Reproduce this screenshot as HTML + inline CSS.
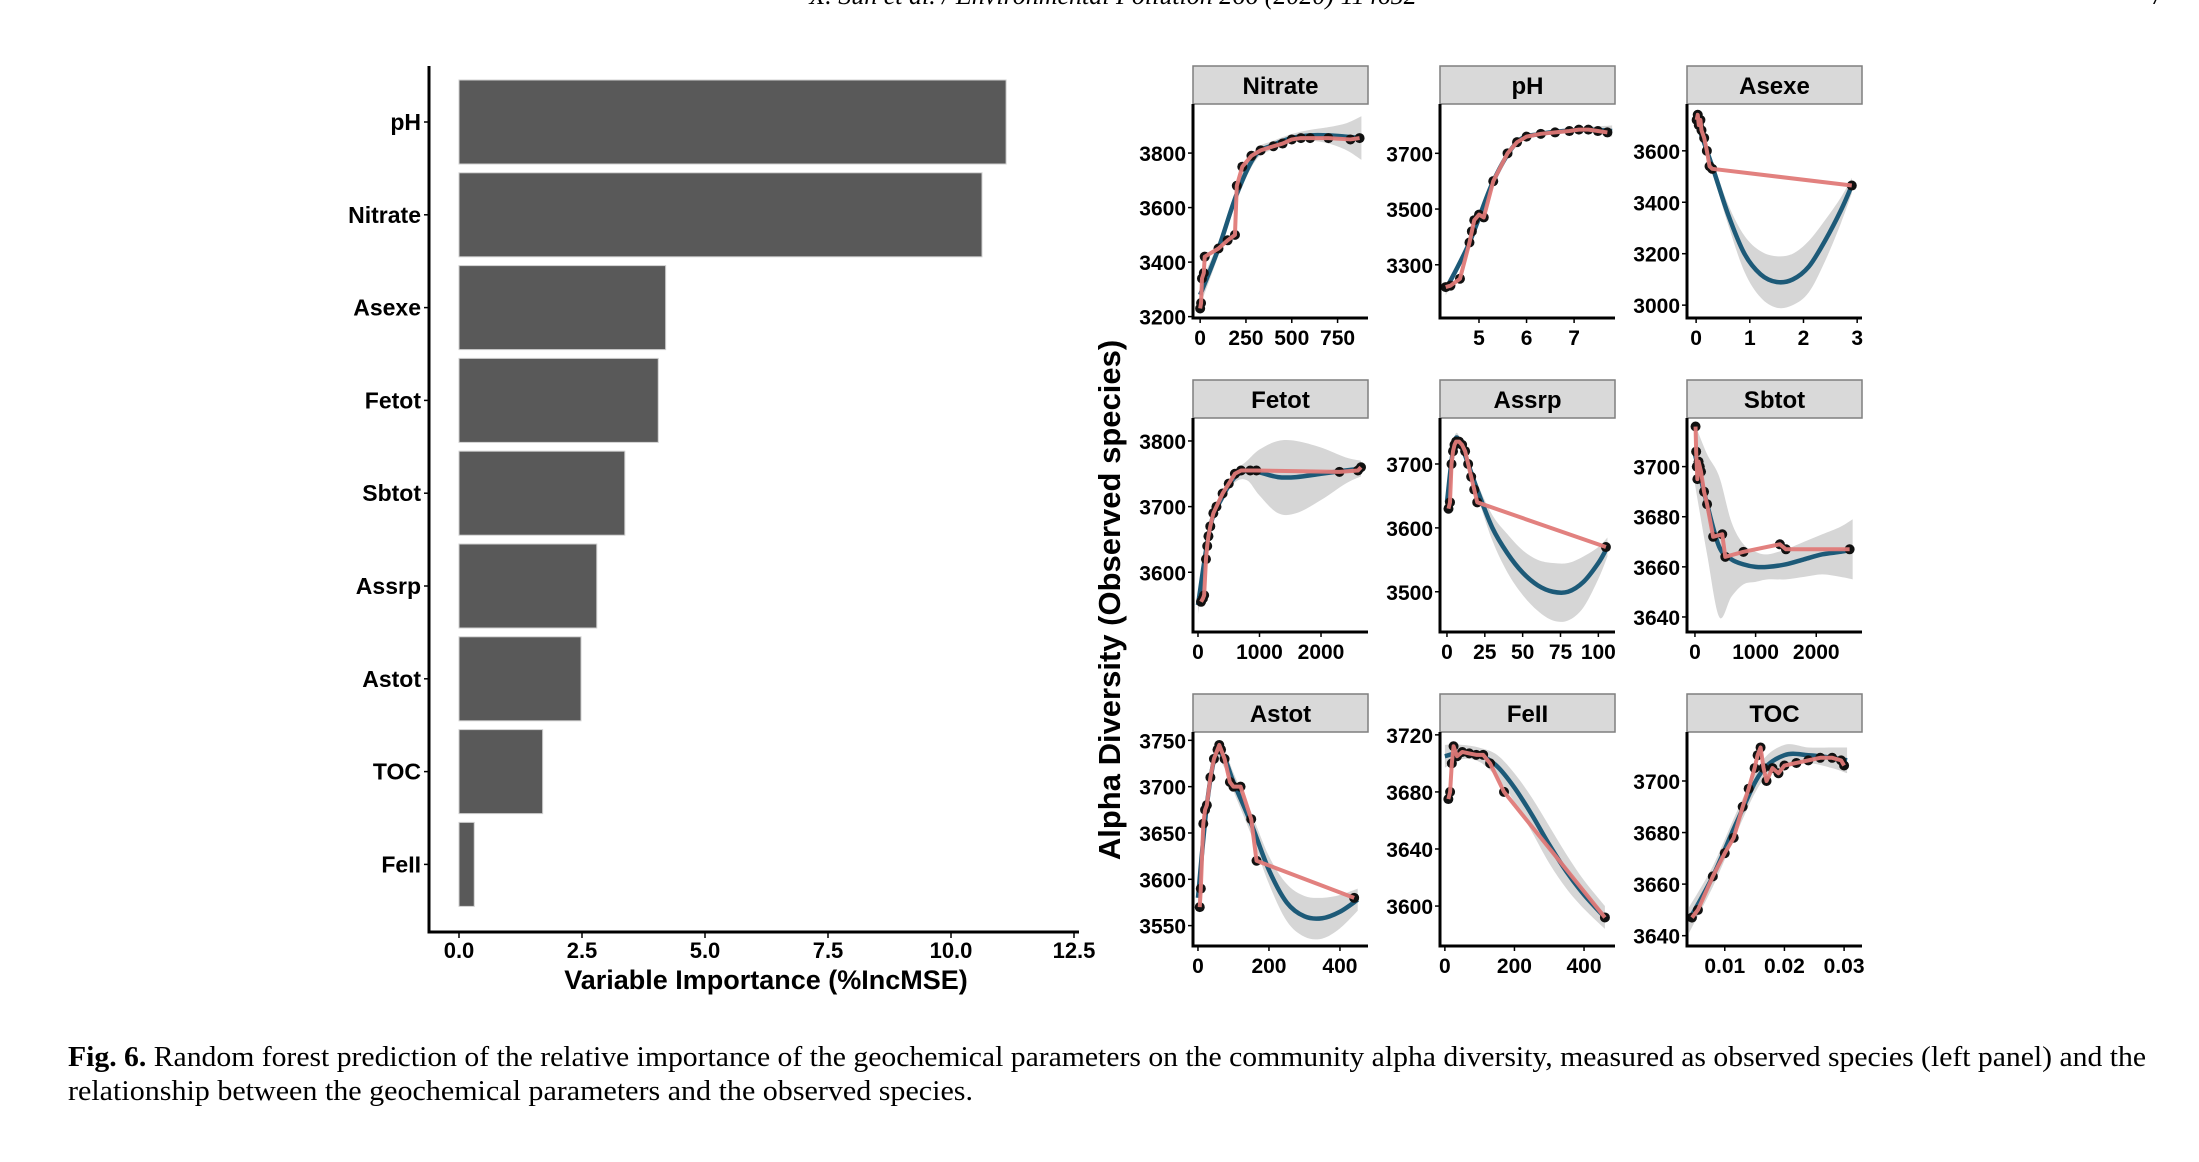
<!DOCTYPE html>
<html><head><meta charset="utf-8"><style>
html,body{margin:0;padding:0;background:#fff;}
svg{display:block;}
</style></head><body>
<svg id="fig" xmlns="http://www.w3.org/2000/svg" width="2199" height="1162" viewBox="0 0 2199 1162" font-family="Liberation Sans, Arial, sans-serif">
<text x="1113" y="4" font-family="Liberation Serif, serif" font-style="italic" font-size="26" text-anchor="middle">X. Sun et al. / Environmental Pollution 266 (2020) 114652</text>
<text x="2150" y="4" font-family="Liberation Serif, serif" font-size="26">7</text>
<g id="bars"></g>
<g id="panels"></g>
<text transform="translate(1120,600) rotate(-90)" font-size="31" font-weight="bold" text-anchor="middle">Alpha Diversity (Observed species)</text>
<text x="68" y="1066" font-family="Liberation Serif, serif" font-size="28" textLength="2078" lengthAdjust="spacingAndGlyphs"><tspan font-weight="bold">Fig. 6.</tspan> Random forest prediction of the relative importance of the geochemical parameters on the community alpha diversity, measured as observed species (left panel) and the</text>
<text x="68" y="1100" font-family="Liberation Serif, serif" font-size="28" textLength="905" lengthAdjust="spacingAndGlyphs">relationship between the geochemical parameters and the observed species.</text>
</svg>
<script>
const NS='http://www.w3.org/2000/svg';
// ---- importance bar chart data ----
const barCategories=['pH','Nitrate','Asexe','Fetot','Sbtot','Assrp','Astot','TOC','FeII'];
const barValues=[11.12,10.63,4.2,4.05,3.37,2.8,2.48,1.7,0.31];
const barTicks=[0,2.5,5,7.5,10,12.5];
const barTickLabels=['0.0','2.5','5.0','7.5','10.0','12.5'];

// ---- panel data ----
const panelNames=['Nitrate','pH','Asexe','Fetot','Assrp','Sbtot','Astot','FeII','TOC'];
const pointsX_Nitrate=[0,5,10,20,25,100,150,190,200,230,280,330,400,450,500,550,600,700,820,870];
const pointsY_Nitrate=[3230,3250,3340,3360,3420,3450,3480,3500,3680,3750,3790,3810,3825,3835,3850,3855,3855,3855,3850,3855];
const fitX_Nitrate=[0,100,200,300,400,500,600,700,800,880];
const fitY_Nitrate=[3280,3450,3650,3790,3830,3855,3865,3865,3860,3855];
const band_Nitrate=[40,25,25,20,15,15,20,30,50,80];
const pointsX_pH=[4.3,4.4,4.6,4.8,4.85,4.9,5.0,5.1,5.3,5.6,5.8,6.0,6.3,6.6,6.9,7.1,7.3,7.5,7.7];
const pointsY_pH=[3220,3225,3250,3380,3420,3460,3480,3470,3600,3700,3740,3760,3770,3775,3780,3785,3785,3780,3775];
const fitX_pH=[4.3,4.8,5.3,5.8,6.3,6.8,7.3,7.8];
const fitY_pH=[3210,3380,3600,3740,3770,3780,3785,3780];
const band_pH=[20,10,10,10,8,8,10,20];
const pointsX_Asexe=[0.01,0.03,0.05,0.08,0.1,0.15,0.2,0.25,0.3,2.9];
const pointsY_Asexe=[3720,3740,3700,3720,3680,3650,3600,3540,3530,3465];
const fitX_Asexe=[0,0.3,0.6,0.9,1.2,1.5,1.8,2.1,2.4,2.7,2.9];
const fitY_Asexe=[3720,3540,3350,3200,3120,3090,3100,3150,3250,3370,3465];
const band_Asexe=[30,25,40,70,90,100,100,100,80,50,30];
const pointsX_Fetot=[50,80,100,130,150,170,200,250,300,400,500,600,700,850,950,2300,2600,2650];
const pointsY_Fetot=[3555,3560,3565,3620,3640,3655,3670,3690,3700,3720,3735,3750,3755,3755,3755,3753,3755,3760];
const fitX_Fetot=[0,200,400,600,800,1000,1300,1600,2000,2400,2650];
const fitY_Fetot=[3550,3670,3715,3745,3755,3752,3745,3745,3750,3755,3758];
const band_Fetot=[15,10,8,8,15,35,55,55,40,20,12];
const pointsX_Assrp=[1,2,3,4,5,6,8,10,12,14,16,18,20,105];
const pointsY_Assrp=[3630,3640,3700,3720,3730,3735,3735,3730,3720,3700,3680,3660,3640,3570];
const fitX_Assrp=[0,5,10,20,30,40,50,60,70,80,90,100,106];
const fitY_Assrp=[3640,3735,3725,3660,3600,3560,3530,3510,3500,3500,3515,3545,3570];
const band_Assrp=[15,8,8,10,20,30,35,40,45,45,40,25,15];
const pointsX_Sbtot=[10,20,30,40,60,80,100,150,200,300,450,500,800,1400,1500,2550];
const pointsY_Sbtot=[3716,3706,3700,3695,3702,3700,3698,3690,3685,3672,3673,3664,3666,3669,3667,3667];
const fitX_Sbtot=[0,200,400,600,800,1000,1200,1500,1800,2100,2400,2600];
const fitY_Sbtot=[3705,3685,3668,3663,3661,3660,3660,3661,3663,3665,3666,3667];
const band_Sbtot=[12,20,28,15,8,6,5,6,7,8,10,12];
const pointsX_Astot=[5,8,15,20,25,35,45,55,60,65,75,90,100,120,150,165,440];
const pointsY_Astot=[3570,3590,3660,3675,3680,3710,3730,3740,3745,3740,3730,3705,3700,3700,3665,3620,3580];
const fitX_Astot=[0,25,50,75,100,150,200,250,300,350,400,450];
const fitY_Astot=[3580,3680,3735,3730,3705,3660,3610,3575,3560,3558,3565,3578];
const band_Astot=[15,10,8,10,10,12,15,20,22,22,18,12];
const pointsX_FeII=[10,15,20,25,35,50,70,90,110,130,170,460];
const pointsY_FeII=[3675,3680,3700,3712,3705,3708,3707,3706,3706,3700,3680,3592];
const fitX_FeII=[0,50,100,150,200,250,300,350,400,460];
const fitY_FeII=[3705,3708,3706,3698,3683,3664,3643,3624,3608,3592];
const band_FeII=[8,5,5,8,10,12,13,12,10,8];
const pointsX_TOC=[0.0045,0.0055,0.008,0.010,0.0115,0.013,0.014,0.015,0.0155,0.016,0.0165,0.017,0.018,0.019,0.020,0.022,0.024,0.026,0.028,0.0295,0.030];
const pointsY_TOC=[3647,3650,3663,3672,3678,3690,3697,3705,3710,3713,3705,3700,3705,3703,3706,3707,3708,3709,3709,3708,3706];
const fitX_TOC=[0.004,0.008,0.012,0.016,0.02,0.024,0.028,0.0305];
const fitY_TOC=[3646,3663,3684,3703,3710,3710,3709,3708];
const band_TOC=[5,4,4,4,4,3,4,5];
const xTicks_Nitrate=[0,250,500,750], yTicks_Nitrate=[3200,3400,3600,3800];
const xTicks_pH=[5,6,7], yTicks_pH=[3300,3500,3700];
const xTicks_Asexe=[0,1,2,3], yTicks_Asexe=[3000,3200,3400,3600];
const xTicks_Fetot=[0,1000,2000], yTicks_Fetot=[3600,3700,3800];
const xTicks_Assrp=[0,25,50,75,100], yTicks_Assrp=[3500,3600,3700];
const xTicks_Sbtot=[0,1000,2000], yTicks_Sbtot=[3640,3660,3680,3700];
const xTicks_Astot=[0,200,400], yTicks_Astot=[3550,3600,3650,3700,3750];
const xTicks_FeII=[0,200,400], yTicks_FeII=[3600,3640,3680,3720];
const xTicks_TOC=[0.01,0.02,0.03], yTicks_TOC=[3640,3660,3680,3700];
const xTickLabels_TOC=['0.01','0.02','0.03'];

function mk(tag,attrs,parent){const e=document.createElementNS(NS,tag);for(const k in attrs)e.setAttribute(k,attrs[k]);parent.appendChild(e);return e;}

// ---- bar chart ----
(function(){
  const g=document.getElementById('bars');
  const x0=459,x1=1074,axX=429,top=66,axY=932,pitch=92.8,firstC=122,bh=84;
  const xs=v=>x0+(v-0)/(12.5-0)*(x1-x0);
  barCategories.forEach((c,i)=>{
    const cy=firstC+i*pitch;
    const r=mk('rect',{x:xs(0),y:cy-bh/2,width:xs(barValues[i])-xs(0),height:bh,fill:'#595959',stroke:'#d0d0d0','stroke-width':1},g);
    
    
    const t=mk('text',{x:axX-8,y:cy+8,'font-size':23,'font-weight':'bold','text-anchor':'end'},g);t.textContent=c;
    
    
    mk('line',{x1:axX-5,x2:axX,y1:cy,y2:cy,stroke:'#000','stroke-width':1.5},g);
  });
  const ax=mk('path',{d:`M${axX},${top} V${axY} H${x1+5}`,fill:'none',stroke:'#000','stroke-width':3},g);
  
  
  barTicks.forEach((v,i)=>{
    mk('line',{x1:xs(v),x2:xs(v),y1:axY,y2:axY+6,stroke:'#000','stroke-width':1.5},g);
    const t=mk('text',{x:xs(v),y:axY+26,'font-size':22,'font-weight':'bold','text-anchor':'middle'},g);t.textContent=barTickLabels[i];
    
    
  });
  const tt=mk('text',{x:766,y:989,'font-size':27,'font-weight':'bold','text-anchor':'middle'},g);tt.textContent='Variable Importance (%IncMSE)';
  
  
})();

// ---- panels ----
const panelCfg={
 Nitrate:{col:0,row:0,xd:[-39,916],yd:[3195,3980]},
 pH:{col:1,row:0,xd:[4.18,7.86],yd:[3109,3877]},
 Asexe:{col:2,row:0,xd:[-0.17,3.09],yd:[2950,3782]},
 Fetot:{col:0,row:1,xd:[-81,2764],yd:[3509,3835]},
 Assrp:{col:1,row:1,xd:[-4.6,111],yd:[3437,3772]},
 Sbtot:{col:2,row:1,xd:[-131,2754],yd:[3634,3719.4]},
 Astot:{col:0,row:2,xd:[-14,479],yd:[3528,3759]},
 FeII:{col:1,row:2,xd:[-14,489],yd:[3572,3722]},
 TOC:{col:2,row:2,xd:[0.00367,0.033],yd:[3636,3719]}
};
const colL=[1193,1440,1687], rowStrip=[66,380,694], stripH=38, plotH=214, plotW=175;

function smoothPath(pts){
  let d=`M${pts[0][0]},${pts[0][1]}`;
  for(let i=0;i<pts.length-1;i++){
    const p0=pts[Math.max(i-1,0)],p1=pts[i],p2=pts[i+1],p3=pts[Math.min(i+2,pts.length-1)];
    const c1=[p1[0]+(p2[0]-p0[0])/6,p1[1]+(p2[1]-p0[1])/6];
    const c2=[p2[0]-(p3[0]-p1[0])/6,p2[1]-(p3[1]-p1[1])/6];
    d+=` C${c1[0]},${c1[1]} ${c2[0]},${c2[1]} ${p2[0]},${p2[1]}`;
  }
  return d;
}

panelNames.forEach(name=>{
  const c=panelCfg[name];
  const L=colL[c.col], sT=rowStrip[c.row], T=sT+stripH, B=T+plotH, R=L+plotW;
  const xs=v=>L+(v-c.xd[0])/(c.xd[1]-c.xd[0])*plotW;
  const ys=v=>B-(v-c.yd[0])/(c.yd[1]-c.yd[0])*plotH;
  const g=mk('g',{},document.getElementById('panels'));
  
  
  const strip=mk('rect',{x:L,y:sT,width:plotW,height:stripH,fill:'#d9d9d9',stroke:'#7f7f7f','stroke-width':1.5},g);
  
  
  const st=mk('text',{x:L+plotW/2,y:sT+28,'font-size':24,'font-weight':'bold','text-anchor':'middle'},g);st.textContent=name;
  
  
  const clipId='clip'+name;
  const cp=mk('clipPath',{id:clipId},g);mk('rect',{x:L,y:T,width:plotW,height:plotH},cp);
  const inner=mk('g',{'clip-path':`url(#${clipId})`},g);
  const FX=eval('fitX_'+name),FY=eval('fitY_'+name),BD=eval('band_'+name),PX=eval('pointsX_'+name),PY=eval('pointsY_'+name);
  const up=FX.map((x,i)=>[xs(x),ys(FY[i]+BD[i])]);
  const lo=FX.map((x,i)=>[xs(x),ys(FY[i]-BD[i])]).reverse();
  const bandD=smoothPath(up)+' L'+lo[0][0]+','+lo[0][1]+smoothPath(lo).replace(/^M[^C]*/,' ')+' Z';
  const band=mk('path',{d:bandD,fill:'#d6d6d6'},inner);
  
  
  const fit=mk('path',{d:smoothPath(FX.map((x,i)=>[xs(x),ys(FY[i])])),fill:'none',stroke:'#1d5a78','stroke-width':4.5},inner);
  
  
  PX.forEach((x,i)=>{
    const p=mk('circle',{cx:xs(x),cy:ys(PY[i]),r:5,fill:'#111'},inner);
    
    
  });
  const rl=mk('polyline',{points:PX.map((x,i)=>xs(x)+','+ys(PY[i])).join(' '),fill:'none',stroke:'#e07a78','stroke-width':4,'stroke-linejoin':'round','opacity':0.95},inner);
  
  
  mk('path',{d:`M${L},${T} V${B} H${R}`,fill:'none',stroke:'#000','stroke-width':3},g);
  const XT=eval('xTicks_'+name),YT=eval('yTicks_'+name);
  XT.forEach((v,i)=>{
    mk('line',{x1:xs(v),x2:xs(v),y1:B,y2:B+5,stroke:'#000','stroke-width':1.5},g);
    const t=mk('text',{x:xs(v),y:B+27,'font-size':21,'font-weight':'bold','text-anchor':'middle'},g);
    t.textContent=name==='TOC'?xTickLabels_TOC[i]:String(v);
    
    
  });
  YT.forEach(v=>{
    mk('line',{x1:L-5,x2:L,y1:ys(v),y2:ys(v),stroke:'#000','stroke-width':1.5},g);
    const t=mk('text',{x:L-7,y:ys(v)+8,'font-size':21,'font-weight':'bold','text-anchor':'end'},g);t.textContent=String(v);
    
    
  });
});
</script>
</body></html>
